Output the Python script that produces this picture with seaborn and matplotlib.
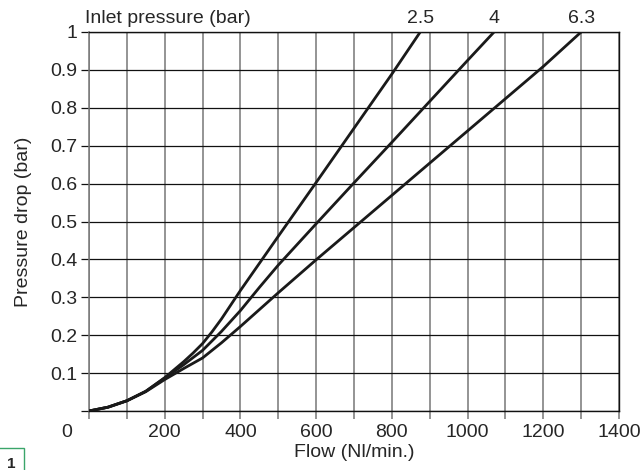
import pandas as pd
import matplotlib
matplotlib.use("Agg")
import matplotlib.pyplot as plt
import seaborn as sns

# curve data (flow in Nl/min, pressure drop in bar)
flow_25 = [0, 50, 100, 150, 200, 250, 275, 300, 325, 350, 400, 500, 600, 700, 800, 875]
drop_25 = [0, 0.01, 0.027, 0.052, 0.088, 0.13, 0.153, 0.178, 0.209, 0.243, 0.318, 0.461, 0.603, 0.746, 0.889, 1.0]

flow_4 = [0, 50, 100, 150, 200, 250, 300, 350, 400, 450, 500, 600, 700, 800, 900, 1000, 1070]
drop_4 = [0, 0.01, 0.027, 0.052, 0.087, 0.122, 0.16, 0.21, 0.265, 0.326, 0.385, 0.494, 0.602, 0.709, 0.817, 0.925, 1.0]

flow_63 = [0, 50, 100, 150, 200, 250, 300, 350, 400, 500, 600, 700, 800, 900, 1000, 1100, 1200, 1300]
drop_63 = [0, 0.01, 0.027, 0.051, 0.083, 0.112, 0.14, 0.18, 0.223, 0.312, 0.399, 0.484, 0.569, 0.654, 0.739, 0.824, 0.909, 1.0]

inlet_labels = ["2.5", "4", "6.3"]
x_ticks = list(range(0, 1500, 100))
x_labels = ["", "", "200", "", "400", "", "600", "", "800", "", "1000", "", "1200", "", "1400"]
y_ticks = [0, 0.1, 0.2, 0.3, 0.4, 0.5, 0.6, 0.7, 0.8, 0.9, 1.0]
y_labels = ["", "0.1", "0.2", "0.3", "0.4", "0.5", "0.6", "0.7", "0.8", "0.9", "1"]

# long table for seaborn
df = pd.concat([
    pd.DataFrame({"flow": flow_25, "drop": drop_25, "inlet": "2.5"}),
    pd.DataFrame({"flow": flow_4, "drop": drop_4, "inlet": "4"}),
    pd.DataFrame({"flow": flow_63, "drop": drop_63, "inlet": "6.3"}),
])

sns.set_style("white")
plt.rcParams["font.family"] = ["Liberation Sans", "DejaVu Sans"]
FS = 14

fig = plt.figure(figsize=(6.43, 4.70), dpi=100)
ax = fig.add_axes([89 / 643, 1 - 411 / 470, 530 / 643, 379 / 470])

sns.lineplot(data=df, x="flow", y="drop", hue="inlet", palette=["#1a1a1a"] * 3,
             estimator=None, sort=False, linewidth=2.0, legend=False, ax=ax, zorder=3)

ax.set_xlim(0, 1400)
ax.set_ylim(0, 1)
ax.set_xticks(x_ticks)
ax.set_xticklabels(x_labels)
ax.set_yticks(y_ticks)
ax.set_yticklabels(y_labels)

# grid: vertical lines grey, horizontal black
for x in x_ticks:
    ax.axvline(x, color="#777777", lw=1.1, zorder=1)
for y in y_ticks:
    ax.axhline(y, color="#111111", lw=0.9, zorder=1)

for side in ["top", "right", "bottom"]:
    ax.spines[side].set_color("#111111")
    ax.spines[side].set_linewidth(1.0)
ax.spines["left"].set_color("#777777")
ax.spines["left"].set_linewidth(1.1)

ax.tick_params(axis="x", direction="out", length=5.5, width=1.1, color="#777777",
               pad=4, labelsize=FS, bottom=True)
ax.tick_params(axis="y", direction="out", length=5.5, width=0.9, color="#111111",
               pad=3, labelsize=FS, left=True)

ax.set_xlabel("Flow (Nl/min.)", fontsize=FS, labelpad=2)
ax.set_ylabel("Pressure drop (bar)", fontsize=FS, labelpad=13)

# the zero of the flow axis sits left of the origin
ax.text(-58, -0.058, "0", ha="center", va="center", fontsize=FS, clip_on=False)

# header labels above the plot
ax.text(-10, 1.035, "Inlet pressure (bar)", ha="left", va="center", fontsize=FS, clip_on=False)
for lab, fl in zip(inlet_labels, [flow_25[-1], flow_4[-1], flow_63[-1]]):
    ax.text(fl, 1.035, lab, ha="center", va="center", fontsize=FS, clip_on=False)

# figure number tag at the bottom edge
fig.text(11 / 643, 5.5 / 470, "1", ha="center", va="center", fontsize=11, fontweight="bold",
         bbox=dict(boxstyle="square,pad=0.6", fc="white", ec="#3aa56a", lw=1))

fig.savefig("out.png", dpi=100)
